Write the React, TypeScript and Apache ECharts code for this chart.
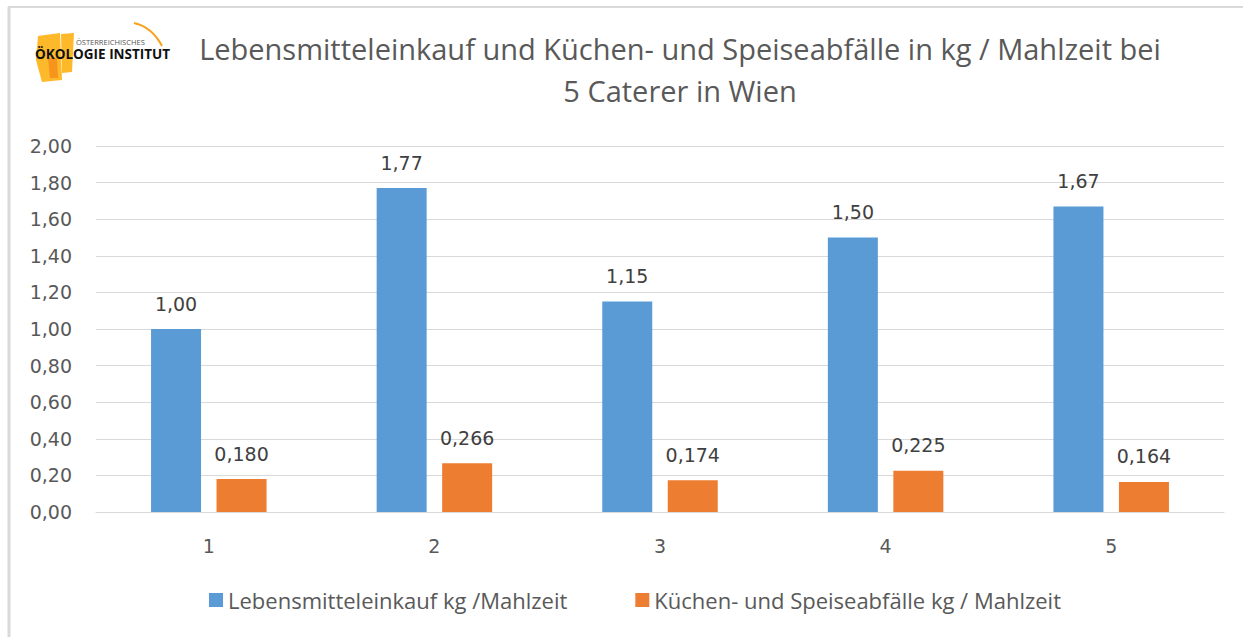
import React, { useEffect, useRef } from "react";
import * as echarts from "echarts";

const categories = ["1", "2", "3", "4", "5"];
const purchase = [1.0, 1.77, 1.15, 1.5, 1.67];
const waste = [0.18, 0.266, 0.174, 0.225, 0.164];
const seriesNames = [
  "Lebensmitteleinkauf kg /Mahlzeit",
  "Küchen- und Speiseabfälle kg / Mahlzeit",
];
const titleText =
  "Lebensmitteleinkauf und Küchen- und Speiseabfälle in kg / Mahlzeit bei\n5 Caterer in Wien";

const FONT = "'Open Sans', 'DejaVu Sans', sans-serif";
const NUMFONT = "'DejaVu Sans', sans-serif";
const fmt = (v: number, d: number) => v.toFixed(d).replace(".", ",");

export default function App() {
  const ref = useRef<HTMLDivElement>(null);
  useEffect(() => {
    if (!ref.current) return;
    const chart = echarts.init(ref.current, undefined, { renderer: "svg" });
    chart.setOption({
      animation: false,
      backgroundColor: "#ffffff",
      textStyle: { fontFamily: FONT },
      title: {
        text: titleText,
        left: 675,
        top: 22,
        textAlign: "center",
        textStyle: {
          fontFamily: FONT,
          fontSize: 29,
          fontWeight: "normal",
          color: "#595959",
          lineHeight: 42,
        },
      },
      legend: {
        left: 204,
        top: 584,
        itemWidth: 14,
        itemHeight: 14,
        itemGap: 68,
        itemTextGap: 6,
        icon: "rect",
        textStyle: { fontFamily: FONT, fontSize: 22, color: "#595959" },
        data: seriesNames,
      },
      grid: { left: 96, right: 28, top: 146, bottom: 125, containLabel: false },
      xAxis: {
        type: "category",
        data: categories,
        axisLine: { lineStyle: { color: "#d9d9d9", width: 1 } },
        axisTick: { show: false },
        axisLabel: { color: "#595959", fontSize: 19, margin: 24, fontFamily: NUMFONT },
      },
      yAxis: {
        type: "value",
        min: 0,
        max: 2,
        interval: 0.2,
        axisLine: { show: false },
        axisTick: { show: false },
        splitLine: { lineStyle: { color: "#d9d9d9", width: 1 } },
        axisLabel: {
          color: "#595959",
          fontSize: 19,
          margin: 24,
          fontFamily: NUMFONT,
          formatter: (v: number) => fmt(v, 2),
        },
      },
      series: [
        {
          name: seriesNames[0],
          type: "bar",
          data: purchase,
          barWidth: 50,
          barGap: "31%",
          itemStyle: { color: "#5b9bd5" },
          label: {
            show: true,
            position: "top",
            distance: 16,
            color: "#404040",
            fontSize: 19,
            fontFamily: NUMFONT,
            formatter: (p: any) => fmt(p.value, 2),
          },
        },
        {
          name: seriesNames[1],
          type: "bar",
          data: waste,
          barWidth: 50,
          itemStyle: { color: "#ed7d31" },
          label: {
            show: true,
            position: "top",
            distance: 16,
            color: "#404040",
            fontSize: 19,
            fontFamily: NUMFONT,
            formatter: (p: any) => fmt(p.value, 3),
          },
        },
      ],
      graphic: [
        // frame
        { type: "line", shape: { x1: 8, y1: 7, x2: 1243, y2: 7 }, style: { stroke: "#d9d9d9", lineWidth: 2 } },
        { type: "line", shape: { x1: 9, y1: 7, x2: 9, y2: 637 }, style: { stroke: "#d9d9d9", lineWidth: 3 } },
        // logo
        {
          type: "polygon",
          shape: { points: [[38, 36], [60, 33], [62, 80], [42, 82], [36, 60]] },
          style: { fill: "#fdb92a" },
        },
        {
          type: "polygon",
          shape: { points: [[61, 34], [74, 33], [72, 72], [62, 73]] },
          style: { fill: "#fdb92a" },
        },
        {
          type: "polygon",
          shape: { points: [[48, 58], [57, 58], [58, 78], [50, 78]] },
          style: { fill: "#f7941d" },
        },
        {
          type: "bezierCurve",
          shape: { x1: 134, y1: 23, cpx1: 152, cpy1: 27, x2: 162, y2: 46 },
          style: { stroke: "#f7a21b", lineWidth: 2, fill: "none" },
        },
        {
          type: "text",
          x: 76,
          y: 42,
          style: {
            text: "ÖSTERREICHISCHES",
            fontSize: 7.5,
            fontFamily: FONT,
            fill: "#555555",
            textVerticalAlign: "middle",
          },
        },
        {
          type: "text",
          x: 35,
          y: 54,
          style: {
            text: "ÖKOLOGIE INSTITUT",
            fontSize: 13.5,
            fontWeight: "bold",
            fontFamily: FONT,
            fill: "#111111",
            textVerticalAlign: "middle",
          },
        },
      ],
    });
    return () => chart.dispose();
  }, []);
  return (
    <div
      ref={ref}
      style={{ position: "absolute", left: 0, top: 0, width: 1252, height: 637 }}
    />
  );
}
